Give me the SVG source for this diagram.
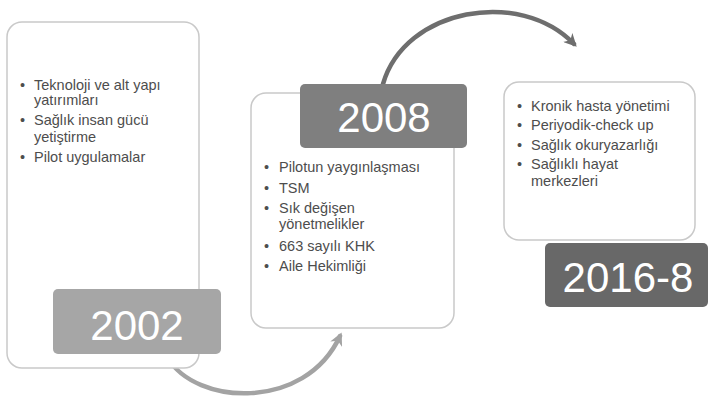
<svg xmlns="http://www.w3.org/2000/svg" width="708" height="401" viewBox="0 0 708 401">
<style>
.card{fill:#ffffff;stroke:#c9c9c9;stroke-width:1.5}
.lbl{stroke:none}
.yr{font-family:"Liberation Sans",Arial,sans-serif;font-size:42px;fill:#ffffff;text-anchor:middle}
.t{font-family:"Liberation Sans",Arial,sans-serif;font-size:14.5px;fill:#4d4d4d}
.conn{fill:none;stroke-width:4.5;stroke-linecap:round}
</style>
<defs>
<marker id="ah1" viewBox="0 0 10 10" refX="7" refY="5" markerWidth="13" markerHeight="13" markerUnits="userSpaceOnUse" orient="auto">
<path d="M0,0 L10,5 L0,10 L3,5 z" fill="#a3a3a3"/>
</marker>
<marker id="ah2" viewBox="0 0 10 10" refX="7" refY="5" markerWidth="13" markerHeight="13" markerUnits="userSpaceOnUse" orient="auto">
<path d="M0,0 L10,5 L0,10 L3,5 z" fill="#6e6e6e"/>
</marker>
</defs>
<rect width="708" height="401" fill="#ffffff"/>
<g id="connectors">
<path class="conn" stroke="#a3a3a3" d="M168,358 C195,405 305,412 340,336" marker-end="url(#ah1)"/>
<path class="conn" stroke="#6e6e6e" d="M383,84 C405,8 520,-12 574,44" marker-end="url(#ah2)"/>
</g>
<g id="node-2002">
<rect class="card" x="7" y="22" width="192" height="346" rx="15"/>
<text class="t" x="20" y="90">•</text><text class="t" x="34" y="90">Teknoloji ve alt yapı</text>
<text class="t" x="34" y="105">yatırımları</text>
<text class="t" x="20" y="125">•</text><text class="t" x="34" y="125">Sağlık insan gücü</text>
<text class="t" x="34" y="142">yetiştirme</text>
<text class="t" x="20" y="162">•</text><text class="t" x="34" y="162">Pilot uygulamalar</text>
<rect class="lbl" x="53" y="289" width="168" height="65" rx="5" fill="#a6a6a6"/>
<text class="yr" x="137" y="340">2002</text>
</g>
<g id="node-2008">
<rect class="card" x="251" y="93" width="203" height="235" rx="15"/>
<rect class="lbl" x="300" y="84" width="167" height="64" rx="5" fill="#7f7f7f"/>
<text class="yr" x="384" y="132">2008</text>
<text class="t" x="264" y="172">•</text><text class="t" x="279" y="172">Pilotun yaygınlaşması</text>
<text class="t" x="264" y="193">•</text><text class="t" x="279" y="193">TSM</text>
<text class="t" x="264" y="213">•</text><text class="t" x="279" y="213">Sık değişen</text>
<text class="t" x="279" y="229">yönetmelikler</text>
<text class="t" x="264" y="251">•</text><text class="t" x="279" y="251">663 sayılı KHK</text>
<text class="t" x="264" y="271">•</text><text class="t" x="279" y="271">Aile Hekimliği</text>
</g>
<g id="node-2016-8">
<rect class="card" x="504" y="82" width="191" height="158" rx="15"/>
<text class="t" x="517" y="111">•</text><text class="t" x="531" y="111">Kronik hasta yönetimi</text>
<text class="t" x="517" y="130">•</text><text class="t" x="531" y="130">Periyodik-check up</text>
<text class="t" x="517" y="150">•</text><text class="t" x="531" y="150">Sağlık okuryazarlığı</text>
<text class="t" x="517" y="169">•</text><text class="t" x="531" y="169">Sağlıklı hayat</text>
<text class="t" x="531" y="186">merkezleri</text>
<rect class="lbl" x="545" y="243" width="163" height="64" rx="5" fill="#686868"/>
<text class="yr" x="628" y="292">2016-8</text>
</g>
</svg>
